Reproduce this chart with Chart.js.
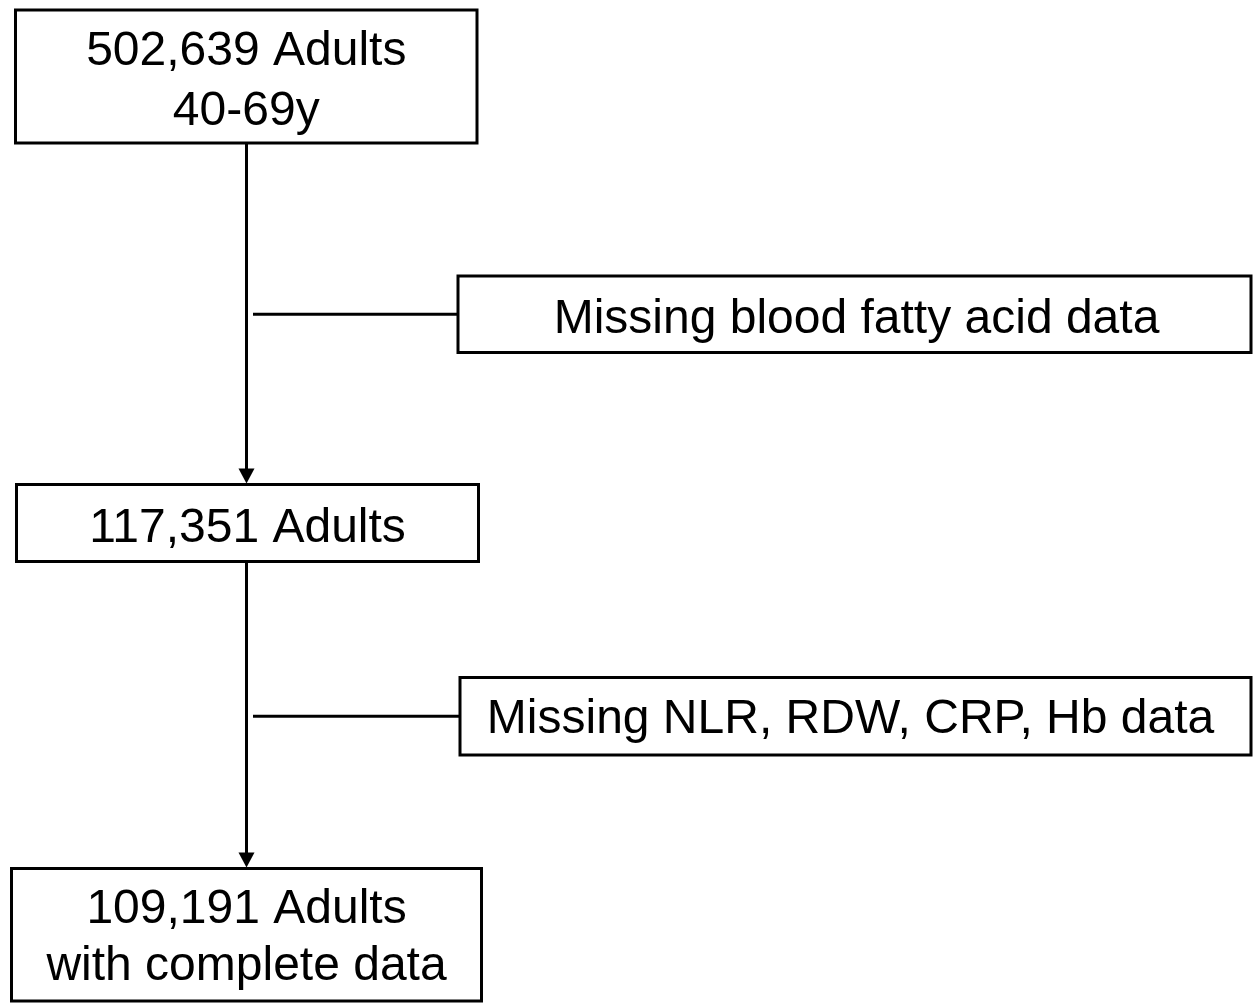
<!DOCTYPE html>
<html>
<head>
<meta charset="utf-8">
<title>Participant flow</title>
<script src="https://cdn.jsdelivr.net/npm/chart.js@4.4.1/dist/chart.umd.min.js"></script>
<style>
  html, body { margin: 0; padding: 0; background: #fff; }
  canvas { display: block; }
</style>
</head>
<body>
<canvas id="flow" width="1254" height="1005"></canvas>
<script>
// ---------- Data ----------
const stepCounts = ['502,639', '117,351', '109,191'];
const stepUnit = 'Adults';
const stepNotes = ['40-69y', '', 'with complete data'];
const exclusionLabels = ['Missing blood fatty acid data', 'Missing NLR, RDW, CRP, Hb data'];

// ---------- Layout (page units, same as scale units) ----------
const mainBoxes = [[15.5, 10, 477, 143], [16.5, 484.5, 478.5, 561.5], [11.5, 868.5, 481.5, 1001]];
const mainBaselines = [[65, 125], [542], [923, 980]];
const sideBoxes = [[458, 276, 1251, 352.5], [460, 677.5, 1251, 755]];
const sideBaselines = [333, 733];
const sideTextX = [856.5, 850.5];
const spineX = 246.5;
const branchStartX = 253;

const FONT = '48px "Liberation Sans", Arial, Helvetica, sans-serif';

// connector lines: spine segments between main boxes, branches to side boxes
function buildConnectors() {
  const sets = [];
  for (let i = 0; i < mainBoxes.length - 1; i++) {
    sets.push([{ x: spineX, y: mainBoxes[i][3] }, { x: spineX, y: mainBoxes[i + 1][1] - 12 }]);
  }
  sideBoxes.forEach((b) => {
    const y = (b[1] + b[3]) / 2;
    sets.push([{ x: branchStartX, y: y }, { x: b[0], y: y }]);
  });
  return sets.map(d => ({
    data: d, showLine: true, borderColor: '#000', borderWidth: 3,
    pointRadius: 0, borderCapStyle: 'butt'
  }));
}

// boxes, text and arrow heads drawn through the scales
const flowPlugin = {
  id: 'flowBoxes',
  afterDatasetsDraw(chart) {
    const ctx = chart.ctx;
    const sx = chart.scales.x, sy = chart.scales.y;
    const px = v => sx.getPixelForValue(v);
    const py = v => sy.getPixelForValue(v);

    function box(b) {
      const x0 = px(b[0]), y0 = py(b[1]), x1 = px(b[2]), y1 = py(b[3]);
      ctx.fillStyle = '#fff';
      ctx.fillRect(x0, y0, x1 - x0, y1 - y0);
      ctx.strokeStyle = '#000';
      ctx.lineWidth = 3;
      ctx.strokeRect(x0, y0, x1 - x0, y1 - y0);
      return (x0 + x1) / 2;
    }

    ctx.save();
    ctx.font = FONT;
    ctx.textAlign = 'center';
    ctx.textBaseline = 'alphabetic';

    mainBoxes.forEach((b, i) => {
      const cx = box(b);
      const lines = [stepCounts[i] + ' ' + stepUnit];
      if (stepNotes[i]) lines.push(stepNotes[i]);
      ctx.fillStyle = '#000';
      lines.forEach((t, k) => ctx.fillText(t, cx, py(mainBaselines[i][k])));
    });

    sideBoxes.forEach((b, i) => {
      box(b);
      ctx.fillStyle = '#000';
      ctx.fillText(exclusionLabels[i], px(sideTextX[i]), py(sideBaselines[i]));
    });

    // arrow heads onto main boxes 2 and 3
    for (let i = 1; i < mainBoxes.length; i++) {
      const tipY = py(mainBoxes[i][1] - 1);
      const x = px(spineX);
      ctx.beginPath();
      ctx.moveTo(x, tipY);
      ctx.lineTo(x - 8, tipY - 15);
      ctx.lineTo(x + 8, tipY - 15);
      ctx.closePath();
      ctx.fillStyle = '#000';
      ctx.fill();
    }
    ctx.restore();
  }
};

new Chart(document.getElementById('flow'), {
  type: 'scatter',
  data: { datasets: buildConnectors() },
  options: {
    responsive: false,
    animation: false,
    layout: { padding: 0 },
    plugins: { legend: { display: false }, tooltip: { enabled: false } },
    scales: {
      x: { type: 'linear', min: 0, max: 1254, display: false },
      y: { type: 'linear', min: 0, max: 1005, reverse: true, display: false }
    }
  },
  plugins: [flowPlugin]
});
</script>
</body>
</html>
